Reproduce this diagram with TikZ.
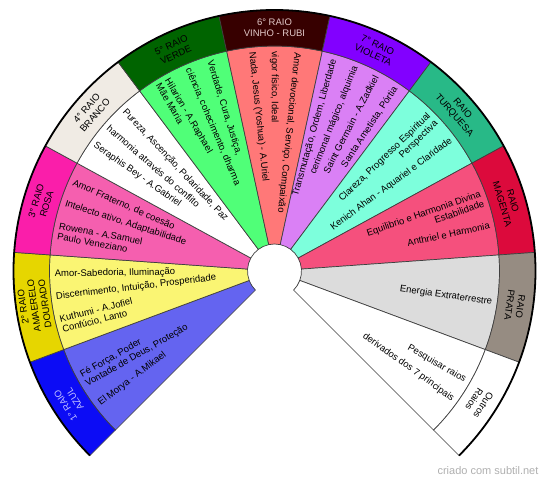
\documentclass[tikz,border=0pt]{standalone}
\usepackage{fontspec}
\setmainfont{Liberation Sans}

\definecolor{azulH}{RGB}{12,12,245}
\definecolor{azulB}{RGB}{100,100,240}
\definecolor{azulT}{RGB}{190,190,255}
\definecolor{amareloH}{RGB}{230,214,0}
\definecolor{amareloB}{RGB}{250,245,115}
\definecolor{rosaH}{RGB}{250,30,170}
\definecolor{rosaB}{RGB}{245,95,175}
\definecolor{brancoH}{RGB}{240,235,228}
\definecolor{verdeH}{RGB}{0,100,0}
\definecolor{verdeB}{RGB}{80,255,120}
\definecolor{vinhoH}{RGB}{55,0,0}
\definecolor{vinhoB}{RGB}{255,120,120}
\definecolor{vinhoT}{RGB}{225,200,200}
\definecolor{violetaH}{RGB}{130,0,255}
\definecolor{violetaB}{RGB}{218,128,245}
\definecolor{turquesaH}{RGB}{40,185,135}
\definecolor{turquesaB}{RGB}{125,255,220}
\definecolor{magentaH}{RGB}{220,10,60}
\definecolor{magentaB}{RGB}{245,80,125}
\definecolor{prataH}{RGB}{150,140,130}
\definecolor{prataB}{RGB}{220,220,220}
\definecolor{rodape}{RGB}{175,175,175}

\tikzset{
  raio/.style={draw=black!75, line width=0.7pt},
  cabeca/.style={align=center, inner sep=0pt, font=\fontsize{9.5}{11}\selectfont},
  dentro/.style={anchor=west, align=left, inner sep=1pt, font=\fontsize{9.5}{10.5}\selectfont},
  fora/.style={anchor=east, align=right, inner sep=1pt, font=\fontsize{9.5}{10.5}\selectfont},
}

\begin{document}
\begin{tikzpicture}[x=1pt, y=1pt]
\useasboundingbox (-274.5,-212) rectangle (275.5,271);

\filldraw[raio, fill=azulB] (225:27) -- (225:225) arc[start angle=225, end angle=200.45, radius=225] -- (200.45:27) arc[start angle=200.45, end angle=225, radius=27] -- cycle;
\filldraw[raio, fill=amareloB] (200.45:27) -- (200.45:225) arc[start angle=200.45, end angle=175.91, radius=225] -- (175.91:27) arc[start angle=175.91, end angle=200.45, radius=27] -- cycle;
\filldraw[raio, fill=rosaB] (175.91:27) -- (175.91:225) arc[start angle=175.91, end angle=151.36, radius=225] -- (151.36:27) arc[start angle=151.36, end angle=175.91, radius=27] -- cycle;
\filldraw[raio, fill=white] (151.36:27) -- (151.36:225) arc[start angle=151.36, end angle=126.82, radius=225] -- (126.82:27) arc[start angle=126.82, end angle=151.36, radius=27] -- cycle;
\filldraw[raio, fill=verdeB] (126.82:27) -- (126.82:225) arc[start angle=126.82, end angle=102.27, radius=225] -- (102.27:27) arc[start angle=102.27, end angle=126.82, radius=27] -- cycle;
\filldraw[raio, fill=vinhoB] (102.27:27) -- (102.27:225) arc[start angle=102.27, end angle=77.73, radius=225] -- (77.73:27) arc[start angle=77.73, end angle=102.27, radius=27] -- cycle;
\filldraw[raio, fill=violetaB] (77.73:27) -- (77.73:225) arc[start angle=77.73, end angle=53.18, radius=225] -- (53.18:27) arc[start angle=53.18, end angle=77.73, radius=27] -- cycle;
\filldraw[raio, fill=turquesaB] (53.18:27) -- (53.18:225) arc[start angle=53.18, end angle=28.64, radius=225] -- (28.64:27) arc[start angle=28.64, end angle=53.18, radius=27] -- cycle;
\filldraw[raio, fill=magentaB] (28.64:27) -- (28.64:225) arc[start angle=28.64, end angle=4.09, radius=225] -- (4.09:27) arc[start angle=4.09, end angle=28.64, radius=27] -- cycle;
\filldraw[raio, fill=prataB] (4.09:27) -- (4.09:225) arc[start angle=4.09, end angle=-20.45, radius=225] -- (-20.45:27) arc[start angle=-20.45, end angle=4.09, radius=27] -- cycle;
\filldraw[raio, fill=white] (-20.45:27) -- (-20.45:225) arc[start angle=-20.45, end angle=-45, radius=225] -- (-45:27) arc[start angle=-45, end angle=-20.45, radius=27] -- cycle;

\filldraw[raio, fill=azulH] (225:225) -- (225:261) arc[start angle=225, end angle=200.45, radius=261] -- (200.45:225) arc[start angle=200.45, end angle=225, radius=225] -- cycle;
\filldraw[raio, fill=amareloH] (200.45:225) -- (200.45:261) arc[start angle=200.45, end angle=175.91, radius=261] -- (175.91:225) arc[start angle=175.91, end angle=200.45, radius=225] -- cycle;
\filldraw[raio, fill=rosaH] (175.91:225) -- (175.91:261) arc[start angle=175.91, end angle=151.36, radius=261] -- (151.36:225) arc[start angle=151.36, end angle=175.91, radius=225] -- cycle;
\filldraw[raio, fill=brancoH] (151.36:225) -- (151.36:261) arc[start angle=151.36, end angle=126.82, radius=261] -- (126.82:225) arc[start angle=126.82, end angle=151.36, radius=225] -- cycle;
\filldraw[raio, fill=verdeH] (126.82:225) -- (126.82:261) arc[start angle=126.82, end angle=102.27, radius=261] -- (102.27:225) arc[start angle=102.27, end angle=126.82, radius=225] -- cycle;
\filldraw[raio, fill=vinhoH] (102.27:225) -- (102.27:261) arc[start angle=102.27, end angle=77.73, radius=261] -- (77.73:225) arc[start angle=77.73, end angle=102.27, radius=225] -- cycle;
\filldraw[raio, fill=violetaH] (77.73:225) -- (77.73:261) arc[start angle=77.73, end angle=53.18, radius=261] -- (53.18:225) arc[start angle=53.18, end angle=77.73, radius=225] -- cycle;
\filldraw[raio, fill=turquesaH] (53.18:225) -- (53.18:261) arc[start angle=53.18, end angle=28.64, radius=261] -- (28.64:225) arc[start angle=28.64, end angle=53.18, radius=225] -- cycle;
\filldraw[raio, fill=magentaH] (28.64:225) -- (28.64:261) arc[start angle=28.64, end angle=4.09, radius=261] -- (4.09:225) arc[start angle=4.09, end angle=28.64, radius=225] -- cycle;
\filldraw[raio, fill=prataH] (4.09:225) -- (4.09:261) arc[start angle=4.09, end angle=-20.45, radius=261] -- (-20.45:225) arc[start angle=-20.45, end angle=4.09, radius=225] -- cycle;
\filldraw[raio, fill=white] (-20.45:225) -- (-20.45:261) arc[start angle=-20.45, end angle=-45, radius=261] -- (-45:225) arc[start angle=-45, end angle=-20.45, radius=225] -- cycle;

\draw[line width=1.8pt] (225:261) arc[start angle=225, end angle=-45, radius=261];

\node[cabeca, rotate=122.73, text=azulT] (Azul) at (212.73:243) {1° RAIO\\AZUL};
\node[cabeca, rotate=98.18] (Amarelo) at (188.18:243) {2° RAIO\\AMAERELO\\DOURADO};
\node[cabeca, rotate=73.64] (Rosa) at (163.64:243) {3° RAIO\\ROSA};
\node[cabeca, rotate=49.09] (Branco) at (139.09:243) {4° RAIO\\BRANCO};
\node[cabeca, rotate=24.55] (Verde) at (114.55:243) {5° RAIO\\VERDE};
\node[cabeca, text=vinhoT] (Vinho) at (90:243) {6° RAIO\\VINHO - RUBI};
\node[cabeca, rotate=-24.55] (Violeta) at (65.45:243) {7° RAIO\\VIOLETA};
\node[cabeca, rotate=-49.09] (Turquesa) at (40.91:243) {RAIO\\TURQUESA};
\node[cabeca, rotate=-73.64] (Magenta) at (16.36:243) {RAIO\\MAGENTA};
\node[cabeca, rotate=-98.18] (Prata) at (-8.18:243) {RAIO\\PRATA};
\node[cabeca, rotate=-122.73] (Outros) at (-32.73:243) {Outros\\Raios};

\node[dentro, rotate=29.78] (Azul1) at (209.78:221) {Fé Força, Poder\\Vontade de Deus, Proteção};
\node[dentro, rotate=37.16] (Azul2) at (217.16:221) {El Morya - A.Mikael};

\node[dentro, rotate=0.81] (Amarelo1) at (180.81:221) {Amor-Sabedoria, Iluminação};
\node[dentro, rotate=6.71] (Amarelo2) at (186.71:221) {Discernimento, Intuição, Prosperidade};
\node[dentro, rotate=14.09] (Amarelo3) at (194.09:221) {Kuthumi - A.Jofiel\\Confúcio, Lanto};

\node[dentro, rotate=-23.74] (Rosa1) at (156.26:221) {Amor Fraterno, de coesão};
\node[dentro, rotate=-17.84] (Rosa2) at (162.16:221) {Intelecto ativo, Adaptabilidade};
\node[dentro, rotate=-10.45] (Rosa3) at (169.55:221) {Rowena - A.Samuel\\Paulo Veneziano};

\node[dentro, rotate=-46.81] (Branco1) at (133.19:221) {Pureza, Ascenção, Polaridade, Paz};
\node[dentro, rotate=-40.91] (Branco2) at (139.09:221) {harmonia através do conflito};
\node[dentro, rotate=-35.01] (Branco3) at (144.99:221) {Seraphis Bey - A.Gabriel};

\node[dentro, rotate=-72.83] (Verde1) at (107.17:221) {Verdade, Cura, Justiça,};
\node[dentro, rotate=-66.93] (Verde2) at (113.07:221) {ciência, cohecimento, dharma};
\node[dentro, rotate=-59.55] (Verde3) at (120.45:221) {Hilarion - A.Raphael\\Mãe Maria};

\node[dentro, rotate=-95.9] (Vinho1) at (84.1:221) {Amor devocional, Serviço, Compaixão};
\node[dentro, rotate=-90] (Vinho2) at (90:221) {vigor físico, Ideal};
\node[dentro, rotate=-84.1] (Vinho3) at (95.9:221) {Nada, Jesus (Yoshua) - A.Uriel};

\node[fora, rotate=74.3] (Violeta1) at (74.3:221) {Transmutação, Ordem, Liberdade};
\node[fora, rotate=68.4] (Violeta2) at (68.4:221) {cerimonal mágico, alquimia};
\node[fora, rotate=62.5] (Violeta3) at (62.5:221) {Saint Germain - A.Zadkiel};
\node[fora, rotate=56.6] (Violeta4) at (56.6:221) {Santa Ametista, Pórtia};

\node[fora, rotate=43.87] (Turquesa1) at (43.87:221) {Clareza, Progresso Espiritual\\Perspectiva};
\node[fora, rotate=36.49] (Turquesa2) at (36.49:221) {Kenich Ahan - Aquariel e Claridade};

\node[fora, rotate=19.32] (Magenta1) at (19.32:221) {Equilibrio e Harmonia Divina\\Estabilidade};
\node[fora, rotate=11.94] (Magenta2) at (11.94:221) {Anthriel e Harmonia};

\node[fora, rotate=-8.18] (Prata1) at (-8.18:221) {Energia Extraterrestre};

\node[fora, rotate=-29.78] (Outros1) at (-29.78:221) {Pesquisar raios};
\node[fora, rotate=-35.68] (Outros2) at (-35.68:221) {derivados dos 7 principais};

\node[font=\fontsize{11}{13}\selectfont, text=rodape] (Rodape) at (213.5,-200) {criado com subtil.net};
\end{tikzpicture}
\end{document}
